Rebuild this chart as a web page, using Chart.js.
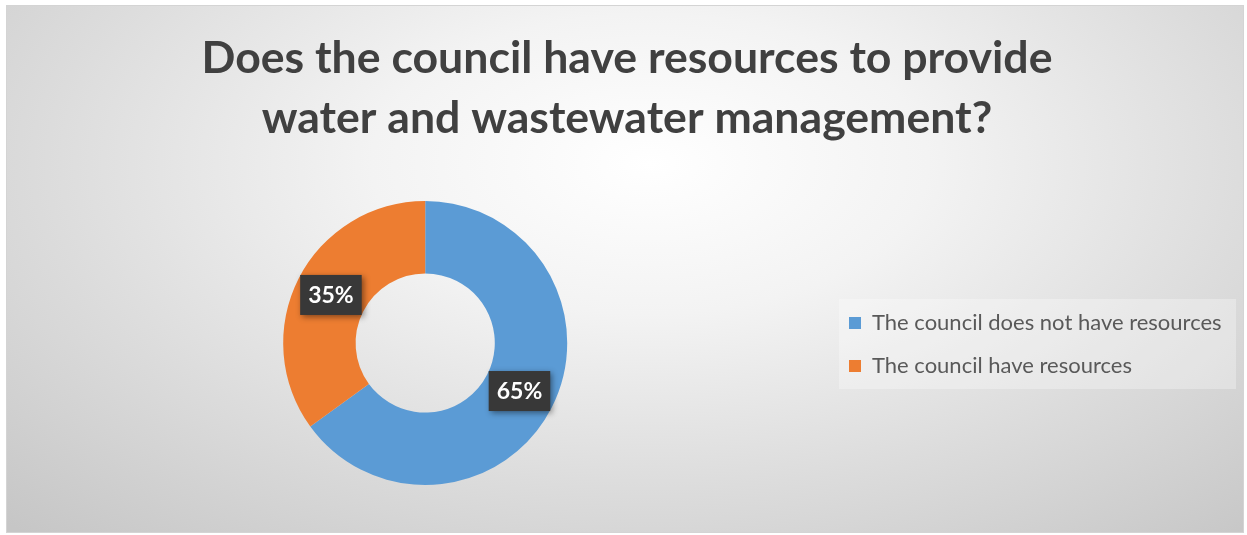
<!DOCTYPE html>
<html>
<head>
<meta charset="utf-8">
<script src="https://cdn.jsdelivr.net/npm/chart.js@4.4.1/dist/chart.umd.min.js"></script>
<style>
  html, body { margin: 0; padding: 0; background: #fff; }
  #frame {
    position: absolute; left: 6px; top: 5px; width: 1238px; height: 528px;
    box-sizing: border-box; border: 1px solid #d4d4d4;
    background: radial-gradient(ellipse 75% 95% at 52% 30%, #ffffff 0%, #f3f3f3 30%, #dcdcdc 65%, #c6c6c6 100%);
  }
  canvas { display: block; }
</style>
</head>
<body>
<div id="frame"><canvas id="chart" width="1236" height="526"></canvas></div>
<script>
// data
const categories = ['The council does not have resources', 'The council have resources'];
const shares = [65, 35];
const sliceColors = ['#5B9BD5', '#ED7D31'];
const titleLines = ['Does the council have resources to provide', 'water and wastewater management?'];

// move the legend next to the doughnut and give it a light panel
const legendPanel = {
  id: 'legendPanel',
  afterLayout(chart) {
    const lg = chart.legend;
    lg.left = 821; lg.right = 1230; lg.width = lg.right - lg.left;
    lg.top = 285; lg.bottom = 520; lg.height = lg.bottom - lg.top;
  },
  beforeDraw(chart) {
    const ctx = chart.ctx;
    ctx.save();
    ctx.fillStyle = 'rgba(255,255,255,0.3)';
    ctx.fillRect(832, 293, 397, 90);
    ctx.restore();
  }
};

// percentage labels in dark boxes
const sliceLabels = {
  id: 'sliceLabels',
  afterDatasetsDraw(chart) {
    const ctx = chart.ctx;
    const meta = chart.getDatasetMeta(0);
    ctx.save();
    ctx.font = 'bold 23px Lato';
    ctx.textAlign = 'center';
    ctx.textBaseline = 'middle';
    meta.data.forEach((arc, i) => {
      const p = arc.tooltipPosition();
      const txt = shares[i] + '%';
      const w = ctx.measureText(txt).width + 16;
      const h = 40;
      ctx.shadowColor = 'rgba(0,0,0,0.45)';
      ctx.shadowBlur = 6;
      ctx.shadowOffsetX = 2;
      ctx.shadowOffsetY = 2;
      ctx.fillStyle = '#383838';
      ctx.fillRect(p.x - w / 2, p.y - h / 2, w, h);
      ctx.shadowColor = 'transparent';
      ctx.fillStyle = '#ffffff';
      ctx.fillText(txt, p.x, p.y + 1);
    });
    ctx.restore();
  }
};

new Chart(document.getElementById('chart'), {
  type: 'doughnut',
  data: {
    labels: categories,
    datasets: [{
      data: shares,
      backgroundColor: sliceColors,
      borderWidth: 0
    }]
  },
  options: {
    responsive: false,
    animation: false,
    cutout: '49%',
    layout: { padding: { left: 8, right: 4, top: 0, bottom: 47 } },
    plugins: {
      title: {
        display: true,
        text: titleLines,
        color: '#404040',
        font: { family: 'Lato', size: 44.6, weight: 'bold', lineHeight: 1.345 },
        padding: { top: 23, bottom: 52 }
      },
      legend: {
        position: 'right',
        align: 'start',
        labels: {
          color: '#595959',
          font: { family: 'Lato', size: 22 },
          boxWidth: 12,
          boxHeight: 12,
          padding: 21
        }
      },
      tooltip: { enabled: false }
    }
  },
  plugins: [legendPanel, sliceLabels]
});
</script>
</body>
</html>
